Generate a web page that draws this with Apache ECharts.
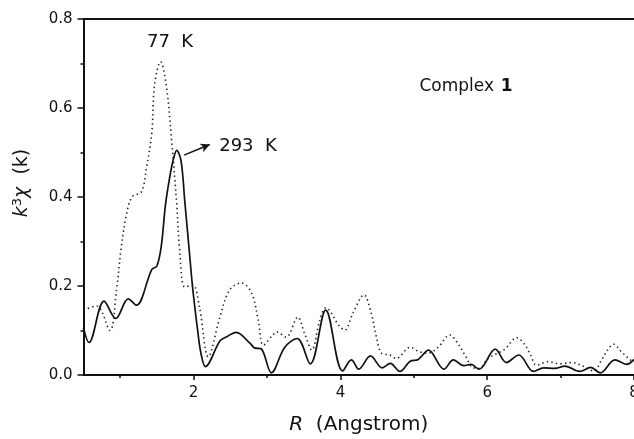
<!DOCTYPE html>
<html lang="en">

<head>
    <meta charset="UTF-8">
    <title>k3chi Complex 1</title>
    <style>
        html, body { margin: 0; padding: 0; background: #fff; }
        #main { width: 634px; height: 439px; }
    </style>
</head>

<body>
    <div id="main"></div>

    <script src="https://cdn.jsdelivr.net/npm/echarts@6/dist/echarts.min.js"></script>
    <script>
        // 293 K (solid)
        let r293 = [0.5, 0.575, 0.78, 0.94, 1.11, 1.22, 1.43, 1.50, 1.56, 1.615, 1.67, 1.72, 1.77, 1.83, 1.88, 1.94, 1.99,
            2.06, 2.10, 2.16, 2.36, 2.45, 2.58, 2.77, 2.83, 2.92, 3.06, 3.24, 3.41, 3.59, 3.80, 4.03, 4.15, 4.25,
            4.41, 4.57, 4.68, 4.81, 4.95, 5.06, 5.20, 5.41, 5.54, 5.68, 5.78, 5.89, 6.11, 6.26, 6.43, 6.63, 6.77,
            6.92, 7.06, 7.26, 7.41, 7.54, 7.74, 7.90, 8.0];
        let k293 = [0.106, 0.073, 0.166, 0.127, 0.171, 0.157, 0.237, 0.245, 0.29, 0.38, 0.44, 0.482, 0.505, 0.48, 0.39, 0.281, 0.191,
            0.094, 0.049, 0.019, 0.077, 0.086, 0.096, 0.071, 0.061, 0.059, 0.005, 0.062, 0.082, 0.025, 0.146, 0.009, 0.034, 0.013,
            0.043, 0.016, 0.026, 0.008, 0.031, 0.035, 0.056, 0.013, 0.034, 0.021, 0.024, 0.013, 0.058, 0.028, 0.045, 0.008, 0.016,
            0.015, 0.020, 0.008, 0.017, 0.005, 0.034, 0.024, 0.035];

        // 77 K (dotted)
        let r77 = [0.5, 0.68, 0.86, 0.95, 1.01, 1.08, 1.16, 1.29, 1.36, 1.43, 1.47, 1.55, 1.63, 1.70, 1.77, 1.81, 1.88, 1.99,
            2.08, 2.20, 2.36, 2.49, 2.65, 2.79, 2.88, 2.95, 3.08, 3.13, 3.26, 3.42, 3.51, 3.61, 3.72, 3.80, 3.99, 4.06, 4.17,
            4.32, 4.42, 4.49, 4.56, 4.67, 4.76, 4.95, 5.08, 5.19, 5.33, 5.49, 5.60, 5.71, 5.80, 5.89, 6.01, 6.24, 6.40, 6.50,
            6.59, 6.67, 6.83, 6.99, 7.15, 7.29, 7.45, 7.56, 7.64, 7.72, 7.83, 7.95, 8.0];
        let k77 = [0.146, 0.155, 0.10, 0.191, 0.281, 0.356, 0.40, 0.412, 0.468, 0.543, 0.655, 0.704, 0.648, 0.528, 0.385, 0.281, 0.198, 0.202,
            0.153, 0.041, 0.131, 0.191, 0.207, 0.184, 0.124, 0.067, 0.090, 0.097, 0.085, 0.130, 0.094, 0.056, 0.124, 0.151, 0.109, 0.101, 0.139,
            0.180, 0.139, 0.086, 0.049, 0.045, 0.037, 0.062, 0.052, 0.049, 0.062, 0.090, 0.071, 0.041, 0.017, 0.015, 0.037, 0.058, 0.084, 0.071,
            0.045, 0.022, 0.030, 0.025, 0.028, 0.021, 0.009, 0.034, 0.056, 0.069, 0.052, 0.034, 0.03];

        let xMajor = [2, 4, 6, 8];
        let xMinor = [1, 3, 5, 7];
        let arrowFrom = [1.87, 0.494];
        let arrowTo = [2.22, 0.518];

        function zip(xs, ys) {
            return xs.map(function (x, i) { return [x, ys[i]]; });
        }

        let font = 'DejaVu Sans';
        let ink = '#111';

        let chart = echarts.init(document.getElementById('main'));
        chart.setOption({
            animation: false,
            grid: { left: 83.5, right: 0, top: 19, bottom: 64, containLabel: false, outerBoundsMode: 'none' },
            xAxis: [
                {
                    type: 'value', min: 0.5, max: 8, position: 'bottom',
                    name: '{i|R}  (Angstrom)', nameLocation: 'middle', nameGap: 40,
                    nameTextStyle: {
                        color: ink, fontFamily: font, fontSize: 20,
                        rich: { i: { fontStyle: 'italic', fontFamily: font, fontSize: 20, color: ink } }
                    },
                    axisLine: { lineStyle: { color: ink, width: 2 } },
                    axisTick: { customValues: xMajor, length: 5, lineStyle: { color: ink, width: 1.5 } },
                    axisLabel: { customValues: xMajor, color: ink, fontFamily: font, fontSize: 15, margin: 11 },
                    splitLine: { show: false }
                },
                {
                    type: 'value', min: 0.5, max: 8, position: 'bottom',
                    axisLine: { show: false },
                    axisTick: { customValues: xMinor, length: 3, lineStyle: { color: ink, width: 1.5 } },
                    axisLabel: { show: false },
                    splitLine: { show: false }
                },
                {
                    type: 'value', min: 0.5, max: 8, position: 'top',
                    axisLine: { lineStyle: { color: ink, width: 2 } },
                    axisTick: { show: false },
                    axisLabel: { show: false },
                    splitLine: { show: false }
                }
            ],
            yAxis: {
                type: 'value', min: 0, max: 0.8, interval: 0.2,
                name: '{i|k}{sup|3}{i|χ}  (k)', nameLocation: 'middle', nameGap: 50, nameRotate: 90,
                nameTextStyle: {
                    color: ink, fontFamily: font, fontSize: 19, padding: [0, 0, 0, 28],
                    rich: {
                        i: { fontStyle: 'italic', fontFamily: font, fontSize: 19, color: ink },
                        sup: { fontFamily: font, fontSize: 13, color: ink, padding: [0, 0, 9, 0] }
                    }
                },
                axisLine: { show: true, lineStyle: { color: ink, width: 2 } },
                axisTick: { length: 6, lineStyle: { color: ink, width: 1.5 } },
                minorTick: { show: true, splitNumber: 2, length: 3, lineStyle: { color: ink, width: 1.5 } },
                axisLabel: {
                    color: ink, fontFamily: font, fontSize: 15, margin: 11,
                    formatter: function (v) { return v.toFixed(1); }
                },
                splitLine: { show: false }
            },
            series: [
                {
                    name: '77 K', type: 'line', xAxisIndex: 0, data: zip(r77, k77),
                    smooth: 0.35, showSymbol: false,
                    lineStyle: { color: '#222', width: 1.6, type: [1.4, 3.2] }
                },
                {
                    name: '293 K', type: 'line', xAxisIndex: 0, data: zip(r293, k293),
                    smooth: 0.35, showSymbol: false,
                    lineStyle: { color: ink, width: 1.7 },
                    markLine: {
                        silent: true, symbol: ['none', 'arrow'], symbolSize: [7, 9],
                        label: { show: false },
                        lineStyle: { color: ink, width: 1.5, type: 'solid' },
                        data: [[{ coord: arrowFrom }, { coord: arrowTo }]]
                    }
                }
            ],
            graphic: [
                { type: 'text', x: 170, y: 42, style: { text: '77  K', font: '18px "DejaVu Sans"', fill: ink, align: 'center', verticalAlign: 'middle' } },
                { type: 'text', x: 248, y: 146, style: { text: '293  K', font: '18px "DejaVu Sans"', fill: ink, align: 'center', verticalAlign: 'middle' } },
                {
                    type: 'text', x: 466, y: 87,
                    style: {
                        text: '{n|Complex}  {b|1}', fill: ink, align: 'center', verticalAlign: 'middle',
                        rich: {
                            n: { fontFamily: font, fontSize: 17, fill: ink },
                            b: { fontFamily: font, fontSize: 17, fontWeight: 'bold', fill: ink }
                        }
                    }
                }
            ]
        });
    </script>
</body>

</html>
